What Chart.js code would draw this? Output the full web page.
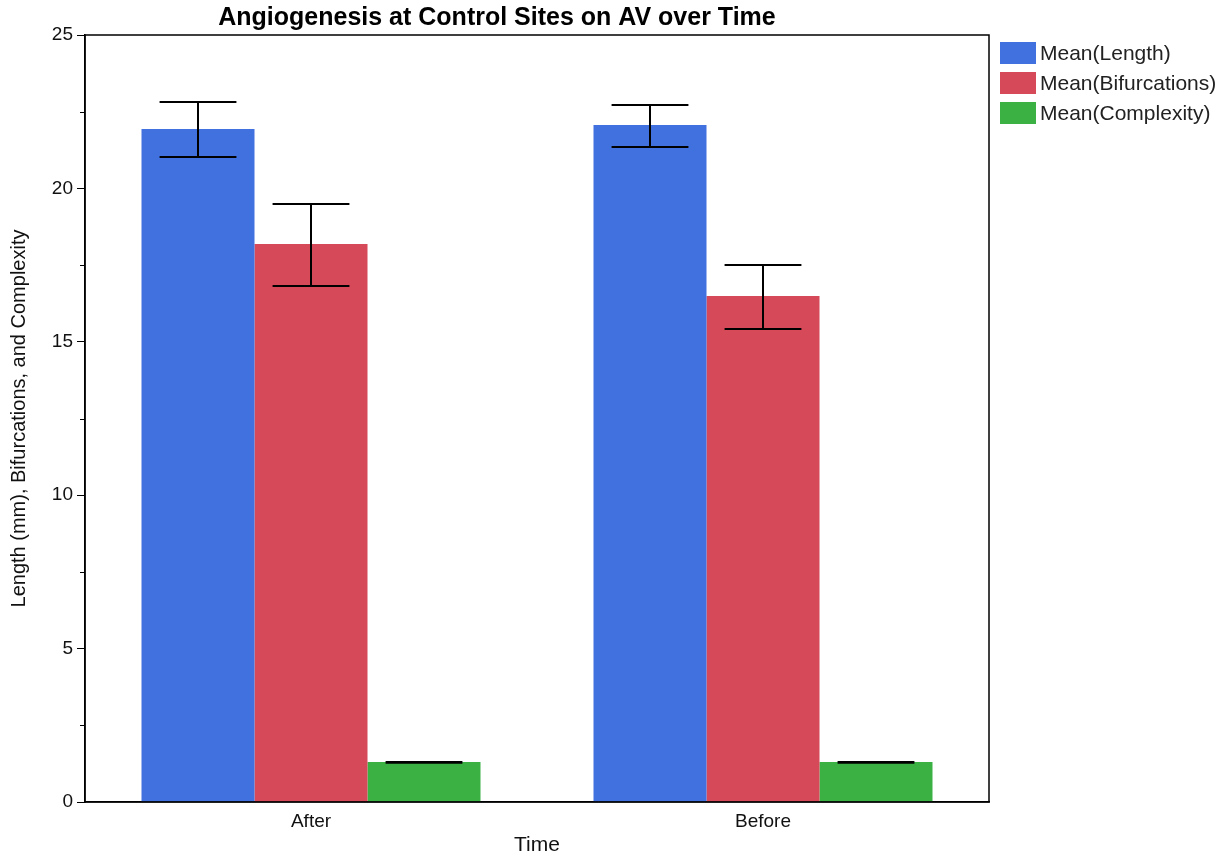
<!DOCTYPE html>
<html>
<head>
<meta charset="utf-8">
<script src="https://cdn.jsdelivr.net/npm/chart.js@4/dist/chart.umd.min.js"></script>
<style>
  html, body { margin: 0; padding: 0; background: #fff; }
  #wrap { width: 1225px; height: 859px; }
</style>
</head>
<body>
<div id="wrap"><canvas id="chart" width="1225" height="859"></canvas></div>
<script>
// ====== DATA ======
const categories = ['After', 'Before'];
const seriesNames = ['Mean(Length)', 'Mean(Bifurcations)', 'Mean(Complexity)'];
const lengthMean = [21.94, 22.07];
const lengthLow = [21.02, 21.35];
const lengthHigh = [22.82, 22.72];
const bifMean = [18.19, 16.49];
const bifLow = [16.82, 15.42];
const bifHigh = [19.49, 17.50];
const complexMean = [1.30, 1.30];
const complexLow = [1.28, 1.28];
const complexHigh = [1.30, 1.30];
const yTicks = [0, 5, 10, 15, 20, 25];

const colors = ['#4171de', '#d54958', '#3bb144'];
const FONT = 'Arial, "Liberation Sans", sans-serif';

// ====== PLUGINS ======
const errorBars = {
    id: 'errorBars',
    afterDatasetsDraw(chart) {
        const ctx = chart.ctx;
        const y = chart.scales.y;
        ctx.save();
        ctx.strokeStyle = '#000';
        ctx.lineWidth = 2;
        chart.data.datasets.forEach((ds, i) => {
            const meta = chart.getDatasetMeta(i);
            meta.data.forEach((bar, j) => {
                const lo = y.getPixelForValue(ds.errLow[j]);
                const hi = y.getPixelForValue(ds.errHigh[j]);
                const half = bar.width * 0.34;
                ctx.beginPath();
                ctx.moveTo(bar.x, lo); ctx.lineTo(bar.x, hi);
                ctx.moveTo(bar.x - half, lo); ctx.lineTo(bar.x + half, lo);
                ctx.moveTo(bar.x - half, hi); ctx.lineTo(bar.x + half, hi);
                ctx.stroke();
            });
        });
        ctx.restore();
    }
};

const frame = {
    id: 'frame',
    afterDraw(chart) {
        const ctx = chart.ctx;
        const a = chart.chartArea;
        const y = chart.scales.y;
        ctx.save();
        // plot box
        ctx.strokeStyle = '#000';
        ctx.lineWidth = 1.5;
        ctx.strokeRect(a.left, a.top, a.right - a.left, a.bottom - a.top);
        // minor ticks
        ctx.lineWidth = 1;
        for (let v = 2.5; v < 25; v += 5) {
            const py = Math.round(y.getPixelForValue(v)) + 0.5;
            ctx.beginPath();
            ctx.moveTo(a.left - 5, py); ctx.lineTo(a.left, py);
            ctx.stroke();
        }
        // title
        ctx.fillStyle = '#000';
        ctx.font = 'bold 25px ' + FONT;
        ctx.textAlign = 'center';
        ctx.textBaseline = 'middle';
        ctx.fillText('Angiogenesis at Control Sites on AV over Time', 497, 18);
        // legend
        ctx.font = '21px ' + FONT;
        ctx.textAlign = 'left';
        seriesNames.forEach((name, i) => {
            const cy = 53 + i * 30;
            ctx.fillStyle = colors[i];
            ctx.fillRect(1000, cy - 11, 36, 22);
            ctx.fillStyle = '#222';
            ctx.fillText(name, 1040, cy + 1);
        });
        ctx.restore();
    }
};

// ====== CHART ======
const ctx = document.getElementById('chart');
new Chart(ctx, {
    type: 'bar',
    data: {
        labels: categories,
        datasets: [
            { label: seriesNames[0], data: lengthMean, errLow: lengthLow, errHigh: lengthHigh, backgroundColor: colors[0] },
            { label: seriesNames[1], data: bifMean, errLow: bifLow, errHigh: bifHigh, backgroundColor: colors[1] },
            { label: seriesNames[2], data: complexMean, errLow: complexLow, errHigh: complexHigh, backgroundColor: colors[2] }
        ]
    },
    options: {
        responsive: false,
        animation: false,
        layout: { padding: { top: 35, right: 236, left: 0, bottom: 0 } },
        datasets: { bar: { categoryPercentage: 0.75, barPercentage: 1.0 } },
        plugins: {
            legend: { display: false },
            title: { display: false },
            tooltip: { enabled: false }
        },
        scales: {
            x: {
                grid: { display: false, drawTicks: false },
                border: { color: '#000', width: 1.5 },
                ticks: { color: '#111', font: { family: FONT, size: 19 }, padding: 8 },
                title: { display: true, text: 'Time', color: '#111', font: { family: FONT, size: 21 }, padding: { top: 2, bottom: 1 } },
                afterFit(scale) { scale.height = 57; }
            },
            y: {
                min: 0,
                max: 25,
                afterBuildTicks(scale) { scale.ticks = yTicks.map(v => ({ value: v })); },
                grid: { drawOnChartArea: false, color: '#000', tickLength: 8 },
                border: { color: '#000', width: 1.5 },
                ticks: { color: '#111', font: { family: FONT, size: 19 }, padding: 4 },
                title: { display: true, text: 'Length (mm), Bifurcations, and Complexity', color: '#111', font: { family: FONT, size: 20 }, padding: { top: 7, bottom: 4 } },
                afterFit(scale) { scale.width = 85; }
            }
        }
    },
    plugins: [errorBars, frame]
});
</script>
</body>
</html>
